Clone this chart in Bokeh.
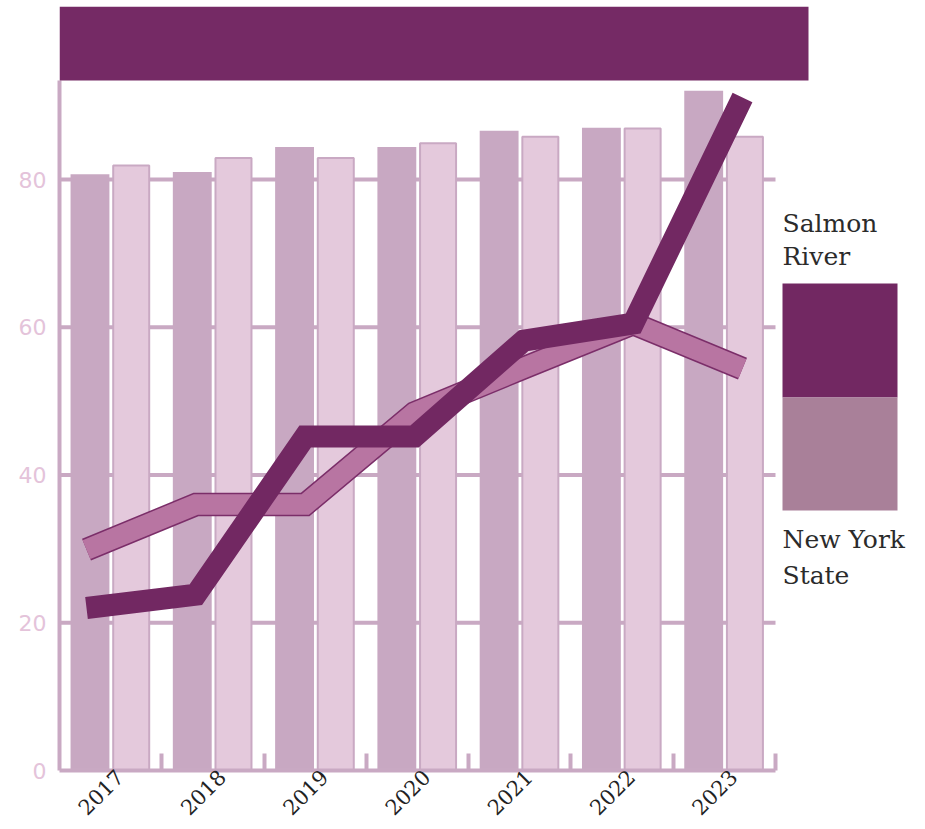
import math
from bokeh.plotting import figure
from bokeh.models import ColumnDataSource, FixedTicker, Range1d, BoxAnnotation
from bokeh.embed import file_html
from bokeh.resources import INLINE
from bokeh.core.properties import value

# ---------------- data ----------------
years = ["2017", "2018", "2019", "2020", "2021", "2022", "2023"]
bar_dark = [80.7, 81.0, 84.4, 84.4, 86.6, 87.0, 92.0]
bar_light = [81.9, 82.9, 82.9, 84.9, 85.8, 86.9, 85.8]
salmon_river = [22.0, 23.8, 45.2, 45.2, 58.2, 60.5, 91.1]
new_york_state = [29.9, 36.0, 36.0, 48.4, 54.5, 60.5, 54.4]
y_ticks = [0, 20, 40, 60, 80]
legend_labels = ["Salmon River", "New York State"]

# ---------------- styles / layout ----------------
BANNER = "#752a65"
SR_COLOR = "#722862"
NY_FILL = "#b875a2"
NY_EDGE = "#7b2e69"
BAR_DARK = "#c8a8c2"
BAR_LIGHT = "#e4c9dc"
AXIS = "#c9a9c3"
YLABEL = "#e4c3da"
LEG_LIGHT = "#a98099"
TEXT = "#2b2b2b"

FIG_W, FIG_H = 918, 827
FRAME_LEFT, FRAME_TOP, FRAME_BOTTOM = 59, 6, 770
FRAME_W = FIG_W - FRAME_LEFT
FRAME_H = FRAME_BOTTOM - FRAME_TOP
BORDER_B = FIG_H - FRAME_BOTTOM
PX_GROUP = 716 / 7          # px per year group
PX_UNIT = 591 / 80          # px per value unit
N = len(years)

x_end = FRAME_W / PX_GROUP
y_end = FRAME_H / PX_UNIT

# line layer has its own horizontal scale (year index)
LINE_X0_PX, LINE_DX_PX = 27, 656 / 6
line_span = FRAME_W / LINE_DX_PX
line_start = -LINE_X0_PX / LINE_DX_PX

BANNER_BOTTOM = 690 / PX_UNIT
BANNER_RIGHT = 749 / PX_GROUP
LEG_X0, LEG_X1 = 723 / PX_GROUP, 838 / PX_GROUP
LEG_Y = [487 / PX_UNIT, 373 / PX_UNIT, 260 / PX_UNIT]
LEG_TEXT_Y = [547 / PX_UNIT, 514 / PX_UNIT, 231 / PX_UNIT, 195 / PX_UNIT]
LABEL_SHIFT = 0.09

p = figure(width=FIG_W, height=FIG_H,
           x_range=Range1d(0, x_end), y_range=Range1d(0, y_end),
           output_backend="svg", toolbar_location=None,
           min_border_left=FRAME_LEFT, min_border_right=0,
           min_border_top=FRAME_TOP, min_border_bottom=BORDER_B)
p.extra_x_ranges = {"line": Range1d(line_start, line_start + line_span)}
p.background_fill_color = "white"
p.border_fill_color = "white"
p.outline_line_color = None
p.xgrid.visible = False
p.ygrid.visible = False

# horizontal grid lines, bounded to the bar area
p.segment(x0=[0] * (len(y_ticks) - 1), x1=[N] * (len(y_ticks) - 1),
          y0=y_ticks[1:], y1=y_ticks[1:], line_width=4, line_color=AXIS)

idx = list(range(N))
src = ColumnDataSource(dict(
    xd=[i + 0.298 for i in idx], xl=[i + 0.701 for i in idx],
    dark=bar_dark, light=bar_light))
p.vbar(x="xd", top="dark", bottom=0, width=0.38, source=src,
       fill_color=BAR_DARK, line_color=None)
p.vbar(x="xl", top="light", bottom=0, width=0.352, source=src,
       fill_color=BAR_LIGHT, line_color=AXIS, line_width=2)

lsrc = ColumnDataSource(dict(i=idx, sr=salmon_river, ny=new_york_state))
p.line(x="i", y="ny", source=lsrc, x_range_name="line", line_width=23.5,
       line_color=NY_EDGE, line_join="miter", line_cap="butt")
p.line(x="i", y="ny", source=lsrc, x_range_name="line", line_width=20.5,
       line_color=NY_FILL, line_join="miter", line_cap="butt")
p.line(x="i", y="sr", source=lsrc, x_range_name="line", line_width=22,
       line_color=SR_COLOR, line_join="miter", line_cap="butt")

# banner
p.add_layout(BoxAnnotation(left=0, right=BANNER_RIGHT, bottom=BANNER_BOTTOM, top=y_end,
                           fill_color=BANNER, fill_alpha=1.0, line_color=None,
                           level="overlay"))

# legend swatches and labels
p.quad(left=[LEG_X0, LEG_X0], right=[LEG_X1, LEG_X1],
       top=LEG_Y[:2], bottom=LEG_Y[1:], fill_color=[SR_COLOR, LEG_LIGHT],
       line_color=None)
words = []
for lab in legend_labels:
    words.extend(lab.rsplit(" ", 1))
p.text(x=[LEG_X0] * len(words), y=LEG_TEXT_Y, text=words,
       text_font=value("DejaVu Serif"), text_font_size="25px",
       text_baseline="alphabetic", text_align="left", text_color=TEXT)

# x axis
xt = [i + 0.5 + LABEL_SHIFT for i in idx]
xa = p.xaxis[0]
xa.ticker = FixedTicker(ticks=xt, minor_ticks=[i + 1 for i in idx])
xa.major_label_overrides = {t: y for t, y in zip(xt, years)}
xa.major_label_orientation = math.pi / 4
xa.major_tick_in = 0
xa.major_tick_out = 0
xa.minor_tick_in = 17
xa.minor_tick_out = 0
xa.minor_tick_line_width = 4
xa.minor_tick_line_color = AXIS
xa.axis_line_width = 4
xa.axis_line_color = AXIS
xa.bounds = (0, N)
xa.major_label_text_font = "DejaVu Serif"
xa.major_label_text_font_size = "21px"
xa.major_label_text_color = "#222222"
xa.major_label_standoff = 3

# y axis
ya = p.yaxis[0]
ya.ticker = FixedTicker(ticks=y_ticks)
ya.major_tick_in = 0
ya.major_tick_out = 0
ya.minor_tick_in = 0
ya.minor_tick_out = 0
ya.axis_line_width = 4
ya.axis_line_color = AXIS
ya.bounds = (0, BANNER_BOTTOM)
ya.major_label_text_font = "DejaVu Sans"
ya.major_label_text_font_size = "22px"
ya.major_label_text_color = YLABEL
ya.major_label_standoff = 13

open("out.html", "w").write(file_html(p, INLINE))
